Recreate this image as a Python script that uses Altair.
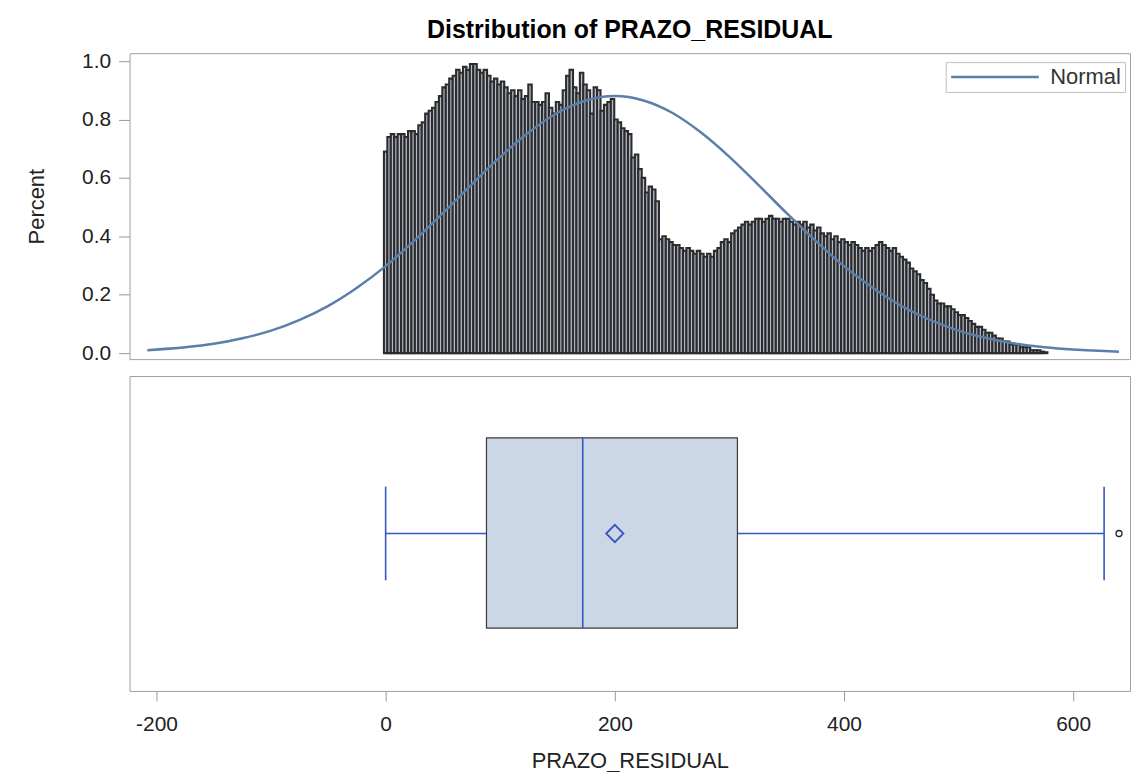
import altair as alt
import pandas as pd

# ---- histogram of PRAZO_RESIDUAL: percent per bin (bin width 3, midpoints 0, 3, 6, ...)
BIN_WIDTH = 3
pct = [
    0.69, 0.74, 0.75, 0.74, 0.75, 0.75, 0.74, 0.76, 0.76, 0.75,
    0.78, 0.79, 0.82, 0.83, 0.84, 0.86, 0.88, 0.91, 0.92, 0.94,
    0.95, 0.97, 0.96, 0.98, 0.97, 0.99, 0.99, 0.97, 0.96, 0.97,
    0.95, 0.93, 0.94, 0.92, 0.93, 0.91, 0.89, 0.90, 0.88, 0.90,
    0.87, 0.88, 0.92, 0.86, 0.86, 0.85, 0.86, 0.89, 0.84, 0.82,
    0.86, 0.85, 0.90, 0.95, 0.97, 0.91, 0.89, 0.96, 0.92, 0.90,
    0.82, 0.91, 0.90, 0.83, 0.85, 0.86, 0.87, 0.80, 0.79, 0.77,
    0.76, 0.75, 0.67, 0.68, 0.63, 0.60, 0.55, 0.57, 0.56, 0.52,
    0.39, 0.40, 0.39, 0.38, 0.37, 0.37, 0.36, 0.35, 0.36, 0.35,
    0.34, 0.35, 0.34, 0.33, 0.34, 0.33, 0.35, 0.36, 0.38, 0.39,
    0.38, 0.41, 0.42, 0.43, 0.44, 0.45, 0.44, 0.45, 0.46, 0.46,
    0.45, 0.46, 0.47, 0.46, 0.46, 0.45, 0.46, 0.46, 0.45, 0.44,
    0.45, 0.44, 0.45, 0.43, 0.44, 0.42, 0.43, 0.41, 0.40, 0.41,
    0.39, 0.40, 0.38, 0.39, 0.38, 0.37, 0.38, 0.37, 0.36, 0.35,
    0.36, 0.35, 0.36, 0.37, 0.38, 0.37, 0.36, 0.35, 0.36, 0.34,
    0.33, 0.32, 0.31, 0.29, 0.28, 0.27, 0.25, 0.24, 0.22, 0.20,
    0.18, 0.17, 0.17, 0.16, 0.16, 0.15, 0.14, 0.13, 0.13, 0.12,
    0.11, 0.10, 0.09, 0.09, 0.08, 0.07, 0.07, 0.06, 0.05, 0.05,
    0.04, 0.04, 0.03, 0.03, 0.03, 0.02, 0.02, 0.02, 0.01, 0.01,
    0.01, 0.005, 0.003,
]
mids = [i * BIN_WIDTH for i in range(len(pct))]
hist = pd.DataFrame({"mid": mids, "pct": pct})
hist["lo"] = hist["mid"] - BIN_WIDTH / 2
hist["hi"] = hist["mid"] + BIN_WIDTH / 2

# ---- fitted normal curve (percent scale)
curve_x = [-208, -175, -150, -125, -100, -75, -50, -25, 0, 25, 50, 75, 100,
           125, 150, 175, 200, 225, 250, 275, 300, 325, 350, 375, 400, 425,
           450, 475, 500, 525, 550, 575, 600, 640]
curve_y = [0.010, 0.020, 0.032, 0.051, 0.077, 0.114, 0.162, 0.224, 0.298,
           0.385, 0.479, 0.577, 0.672, 0.756, 0.823, 0.865, 0.880, 0.865,
           0.823, 0.756, 0.672, 0.577, 0.479, 0.385, 0.298, 0.224, 0.162,
           0.114, 0.077, 0.051, 0.032, 0.020, 0.012, 0.005]
curve = pd.DataFrame({"x": curve_x, "y": curve_y, "series": ["Normal"] * len(curve_x)})

# ---- box plot statistics
stats = pd.DataFrame([{
    "wlo": 0, "q1": 88, "median": 172, "q3": 307, "whi": 627, "mean": 200,
}])
outliers = pd.DataFrame({"value": [640]})

FONT = "Liberation Sans"
BLUE_CURVE = "#5b7eab"
BLUE_BOX = "#3557c4"
X_DOMAIN = [-223.5, 649.6]
PLOT_W = 1004

xs = alt.Scale(domain=X_DOMAIN, nice=False, zero=False)
ys = alt.Scale(domain=[-0.0205, 1.027], nice=False, zero=False)

bars = alt.Chart(hist).mark_rect(
    fill="#b4bccb", stroke="#2c2c2c", strokeWidth=2.1
).encode(
    x=alt.X("lo:Q", scale=xs, axis=None),
    x2="hi:Q",
    y=alt.Y(
        "pct:Q", scale=ys, title="Percent",
        axis=alt.Axis(values=[0, 0.2, 0.4, 0.6, 0.8, 1.0], format=".1f",
                      tickSize=11, labelPadding=8, titlePadding=33,
                      domain=False, grid=False),
    ),
    y2=alt.datum(0),
)

normal = alt.Chart(curve).mark_line(strokeWidth=2.5, interpolate="monotone").encode(
    x=alt.X("x:Q", scale=xs, axis=None),
    y=alt.Y("y:Q", scale=ys),
    color=alt.Color(
        "series:N",
        scale=alt.Scale(domain=["Normal"], range=[BLUE_CURVE]),
        legend=alt.Legend(
            title=None, orient="none", legendX=819, legendY=9,
            symbolType="stroke", symbolSize=7744, symbolStrokeWidth=2.5,
            clipHeight=22,
            labelFontSize=22, labelFont=FONT, labelColor="#333",
            labelOffset=10, padding=4, strokeColor="#c0c0c0",
            fillColor="white",
        ),
    ),
)

upper = alt.layer(bars, normal).properties(
    width=PLOT_W, height=307,
    title=alt.TitleParams(
        "Distribution of PRAZO_RESIDUAL", fontSize=25, font=FONT,
        fontWeight="bold", anchor="middle", frame="group", offset=7,
        color="black",
    ),
)

# ---- box plot panel (pixel offsets within the 316 px tall panel)
BOX_TOP, BOX_BOT = 62, 253
CAP_TOP, CAP_BOT = 111, 205
MID = 158

xaxis = alt.Axis(values=[-200, 0, 200, 400, 600], tickSize=10, labelPadding=13,
                 titlePadding=16, domain=False, grid=False,
                 labelExpr="replace(datum.label, '\u2212', '-')")
base = alt.Chart(stats)

whisk_l = base.mark_rule(color=BLUE_BOX, strokeWidth=1.6).encode(
    x=alt.X("wlo:Q", scale=xs, axis=xaxis, title="PRAZO_RESIDUAL"),
    x2="q1:Q", y=alt.value(MID))
whisk_r = base.mark_rule(color=BLUE_BOX, strokeWidth=1.6).encode(
    x=alt.X("q3:Q", scale=xs), x2="whi:Q", y=alt.value(MID))
cap_l = base.mark_rule(color=BLUE_BOX, strokeWidth=1.6).encode(
    x=alt.X("wlo:Q", scale=xs), y=alt.value(CAP_TOP), y2=alt.value(CAP_BOT))
cap_r = base.mark_rule(color=BLUE_BOX, strokeWidth=1.6).encode(
    x=alt.X("whi:Q", scale=xs), y=alt.value(CAP_TOP), y2=alt.value(CAP_BOT))
box = base.mark_rect(fill="#cbd6e6", stroke="#3a3a3a", strokeWidth=1.2).encode(
    x=alt.X("q1:Q", scale=xs), x2="q3:Q",
    y=alt.value(BOX_TOP), y2=alt.value(BOX_BOT))
med = base.mark_rule(color=BLUE_BOX, strokeWidth=1.6).encode(
    x=alt.X("median:Q", scale=xs), y=alt.value(BOX_TOP), y2=alt.value(BOX_BOT))
mean_pt = base.mark_point(shape="diamond", filled=False, color=BLUE_BOX,
                          strokeWidth=1.8, size=300, opacity=1).encode(
    x=alt.X("mean:Q", scale=xs), y=alt.value(MID))
out_pt = alt.Chart(outliers).mark_point(shape="circle", filled=False,
                                        color="#222", strokeWidth=1.3,
                                        size=36, opacity=1).encode(
    x=alt.X("value:Q", scale=xs), y=alt.value(MID))

lower = alt.layer(whisk_l, whisk_r, cap_l, cap_r, box, med, mean_pt, out_pt).properties(
    width=PLOT_W, height=316)

chart = alt.vconcat(upper, lower, spacing=11).properties(
    padding={"left": 25, "top": 16, "right": 1, "bottom": 5},
).configure(
    font=FONT,
).configure_view(
    stroke="#a0a0a0", strokeWidth=1,
).configure_axis(
    labelFont=FONT, labelFontSize=21, labelColor="#222",
    titleFont=FONT, titleFontSize=22, titleColor="#222",
    titleFontWeight="normal", tickColor="#999",
)

chart.save("out.html", embed_options={"renderer": "svg", "actions": False})
